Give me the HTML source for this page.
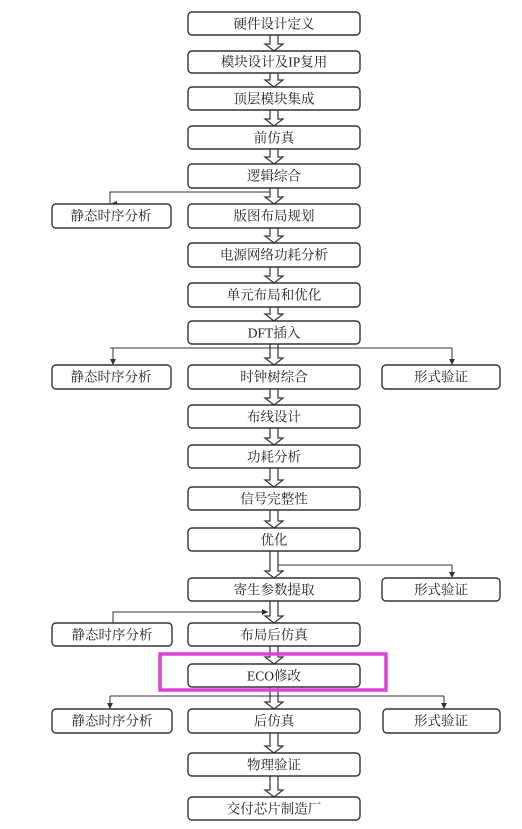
<!DOCTYPE html>
<html><head><meta charset="utf-8"><style>
html,body{margin:0;padding:0;background:#fff}
svg{display:block}
text{font-family:"Liberation Serif","Noto Serif CJK SC",serif;font-size:13.5px;fill:#222;text-anchor:middle;dominant-baseline:central}
.b{fill:#fff;stroke:#333;stroke-width:1.4}
.l{stroke:#333;stroke-width:1;fill:none}
.a{fill:#fff;stroke:#333;stroke-width:1.2}
</style></head><body>
<svg width="522" height="829" viewBox="0 0 522 829" xmlns="http://www.w3.org/2000/svg">
<defs>
<marker id="m" markerWidth="6" markerHeight="7" refX="3" refY="7" orient="auto" markerUnits="userSpaceOnUse"><path d="M0,0 L6,0 L3,7 Z" fill="#333"/></marker>
</defs>
<g id="arrows">
<!-- hollow double arrows between main boxes: y1 (bottom prev) to y2 (top next) -->
<path class="a" d="M270,35 V44 H265 L274,51 L283,44 H278 V35"/>
<path class="a" d="M270,73 V80 H265 L274,87 L283,80 H278 V73"/>
<path class="a" d="M270,110 V119 H265 L274,126 L283,119 H278 V110"/>
<path class="a" d="M270,149 V157 H265 L274,164 L283,157 H278 V149"/>
<path class="a" d="M270,188 V197 H265 L274,204 L283,197 H278 V188"/>
<path class="a" d="M270,228 V236 H265 L274,243 L283,236 H278 V228"/>
<path class="a" d="M270,267 V276 H265 L274,283 L283,276 H278 V267"/>
<path class="a" d="M270,307 V314 H265 L274,321 L283,314 H278 V307"/>
<path class="a" d="M270,344 V358 H265 L274,365 L283,358 H278 V344"/>
<path class="a" d="M270,389 V398 H265 L274,405 L283,398 H278 V389"/>
<path class="a" d="M270,428 V438 H265 L274,445 L283,438 H278 V428"/>
<path class="a" d="M270,468 V480 H265 L274,487 L283,480 H278 V468"/>
<path class="a" d="M270,510 V521 H265 L274,528 L283,521 H278 V510"/>
<path class="a" d="M270,551 V571 H265 L274,578 L283,571 H278 V551"/>
<path class="a" d="M270,601 V616 H265 L274,623 L283,616 H278 V601"/>
<path class="a" d="M270,646 V657 H265 L274,664 L283,657 H278 V646"/>
<path class="a" d="M270,687 V702 H265 L274,709 L283,702 H278 V687"/>
<path class="a" d="M270,733 V746 H265 L274,753 L283,746 H278 V733"/>
<path class="a" d="M270,776 V790 H265 L274,797 L283,790 H278 V776"/>
</g>
<!-- branch lines -->
<path class="l" d="M270,192 H110 V204" marker-end="url(#m)"/>
<path class="l" d="M110,348 H452 M113,348 V365 M452,348 V365"/>
<path d="M110,359 L116,359 L113,365 Z M449,359 L455,359 L452,365 Z" fill="#333"/>
<path class="l" d="M278,565 H452 V578"/>
<path d="M449,572 L455,572 L452,578 Z" fill="#333"/>
<path class="l" d="M113,623 V612 H268"/>
<path d="M262,609 L268,612 L262,615 Z" fill="#333"/>
<path class="l" d="M110,696 H444 M110,696 V709 M444,696 V709"/>
<path d="M107,703 L113,703 L110,709 Z M441,703 L447,703 L444,709 Z" fill="#333"/>
<!-- main boxes -->
<g>
<rect class="b" x="188" y="12" width="172" height="23" rx="4"/><text x="274" y="24">硬件设计定义</text>
<rect class="b" x="188" y="51" width="172" height="22" rx="4"/><text x="274" y="62">模块设计及IP复用</text>
<rect class="b" x="188" y="87" width="172" height="23" rx="4"/><text x="274" y="99">顶层模块集成</text>
<rect class="b" x="188" y="126" width="172" height="23" rx="4"/><text x="274" y="138">前仿真</text>
<rect class="b" x="188" y="164" width="172" height="24" rx="4"/><text x="274" y="176">逻辑综合</text>
<rect class="b" x="188" y="204" width="172" height="24" rx="4"/><text x="274" y="216">版图布局规划</text>
<rect class="b" x="188" y="243" width="172" height="24" rx="4"/><text x="274" y="255">电源网络功耗分析</text>
<rect class="b" x="188" y="283" width="172" height="24" rx="4"/><text x="274" y="295">单元布局和优化</text>
<rect class="b" x="188" y="321" width="172" height="23" rx="4"/><text x="274" y="333">DFT插入</text>
<rect class="b" x="188" y="365" width="172" height="24" rx="4"/><text x="274" y="377">时钟树综合</text>
<rect class="b" x="188" y="405" width="172" height="23" rx="4"/><text x="274" y="417">布线设计</text>
<rect class="b" x="188" y="445" width="172" height="23" rx="4"/><text x="274" y="457">功耗分析</text>
<rect class="b" x="188" y="487" width="172" height="23" rx="4"/><text x="274" y="499">信号完整性</text>
<rect class="b" x="188" y="528" width="172" height="23" rx="4"/><text x="274" y="540">优化</text>
<rect class="b" x="188" y="578" width="172" height="23" rx="4"/><text x="274" y="590">寄生参数提取</text>
<rect class="b" x="188" y="623" width="172" height="23" rx="4"/><text x="274" y="635">布局后仿真</text>
<rect class="b" x="188" y="664" width="172" height="23" rx="4"/><text x="274" y="676">ECO修改</text>
<rect class="b" x="188" y="709" width="172" height="24" rx="4"/><text x="274" y="721">后仿真</text>
<rect class="b" x="188" y="753" width="172" height="23" rx="4"/><text x="274" y="765">物理验证</text>
<rect class="b" x="188" y="797" width="172" height="23" rx="4"/><text x="274" y="809">交付芯片制造厂</text>
</g>
<!-- side boxes -->
<rect class="b" x="52" y="204" width="119" height="24" rx="4"/><text x="111" y="216">静态时序分析</text>
<rect class="b" x="52" y="365" width="119" height="24" rx="4"/><text x="111" y="377">静态时序分析</text>
<rect class="b" x="382" y="365" width="118" height="24" rx="4"/><text x="441" y="377">形式验证</text>
<rect class="b" x="382" y="578" width="118" height="23" rx="4"/><text x="441" y="590">形式验证</text>
<rect class="b" x="52" y="623" width="120" height="23" rx="4"/><text x="112" y="635">静态时序分析</text>
<rect class="b" x="52" y="709" width="120" height="24" rx="4"/><text x="112" y="721">静态时序分析</text>
<rect class="b" x="383" y="709" width="117" height="24" rx="4"/><text x="441" y="721">形式验证</text>
<!-- highlight -->
<rect x="160" y="654" width="226" height="36" fill="none" stroke="#e040d8" stroke-width="3.5"/>
</svg>
</body></html>
